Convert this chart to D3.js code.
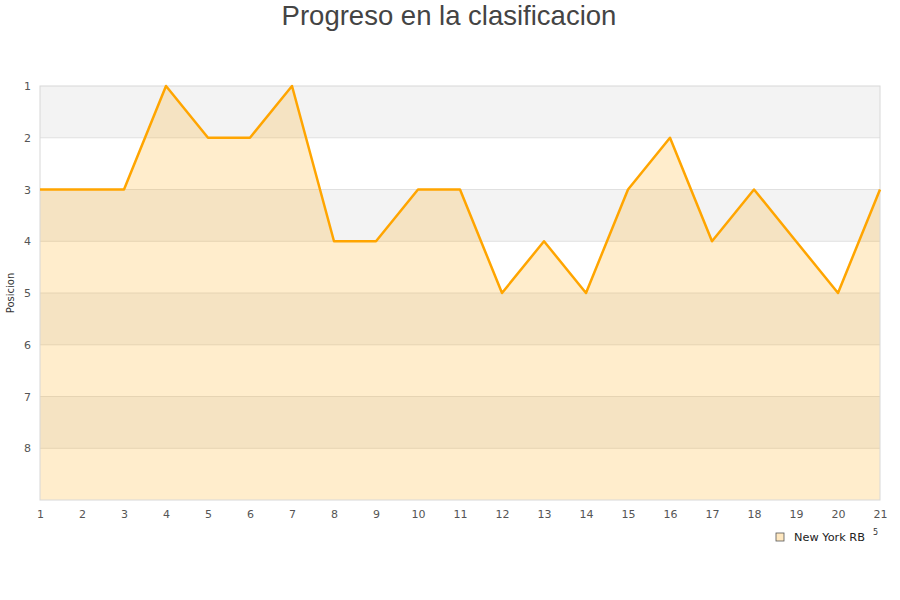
<!DOCTYPE html>
<html>
<head>
<meta charset="utf-8">
<script src="https://cdn.jsdelivr.net/npm/d3@7"></script>
<style>
  body { margin: 0; background: #fff; }
  .axis text { font-family: "DejaVu Sans", sans-serif; font-size: 11px; fill: #555; }
  .axis path, .axis line { display: none; }
</style>
</head>
<body>
<svg id="chart" width="900" height="600"></svg>
<script>
var title = "Progreso en la clasificacion",
    yLabel = "Posicion",
    seriesName = "New York RB";
var rounds = [1, 2, 3, 4, 5, 6, 7, 8, 9, 10, 11, 12, 13, 14, 15, 16, 17, 18, 19, 20, 21];
var positions = [3, 3, 3, 1, 2, 2, 1, 4, 4, 3, 3, 5, 4, 5, 3, 2, 4, 3, 4, 5, 3];
var yTicks = [1, 2, 3, 4, 5, 6, 7, 8];

var svg = d3.select("#chart"),
    margin = {top: 86, right: 20, bottom: 100, left: 40},
    width = 900 - margin.left - margin.right,
    height = 600 - margin.top - margin.bottom,
    g = svg.append("g").attr("transform", "translate(" + margin.left + "," + margin.top + ")");

var x = d3.scaleLinear()
    .domain([1, 21])
    .range([0, width]);

var y = d3.scaleLinear()
    .domain([1, 9])
    .range([0, height]);

// alternating bands
var bands = d3.range(1, 9);
g.selectAll(".band")
    .data(bands)
  .enter().append("rect")
    .attr("x", 0)
    .attr("y", function(d) { return y(d); })
    .attr("width", width)
    .attr("height", function(d) { return y(d + 1) - y(d); })
    .attr("fill", function(d) { return d % 2 ? "#f3f3f3" : "#ffffff"; });

// grid lines
g.selectAll(".grid")
    .data(yTicks.slice(1))
  .enter().append("line")
    .attr("x1", 0).attr("x2", width)
    .attr("y1", function(d) { return y(d); })
    .attr("y2", function(d) { return y(d); })
    .attr("stroke", "#e0e0e0");

// area under line
var area = d3.area()
    .x(function(d, i) { return x(rounds[i]); })
    .y0(height)
    .y1(function(d) { return y(d); });

g.append("path")
    .datum(positions)
    .attr("fill", "rgba(255,165,0,0.2)")
    .attr("d", area);

// frame
g.append("rect")
    .attr("width", width)
    .attr("height", height)
    .attr("fill", "none")
    .attr("stroke", "#d8d8d8");

var line = d3.line()
    .x(function(d, i) { return x(rounds[i]); })
    .y(function(d) { return y(d); });

g.append("path")
    .datum(positions)
    .attr("fill", "none")
    .attr("stroke", "#ffa500")
    .attr("stroke-width", 2.5)
    .attr("stroke-linejoin", "round")
    .attr("d", line);

g.append("g")
    .attr("class", "axis")
    .attr("transform", "translate(0," + height + ")")
    .call(d3.axisBottom(x).tickValues(rounds).tickFormat(d3.format("d")).tickSize(0).tickPadding(10));

g.append("g")
    .attr("class", "axis")
    .call(d3.axisLeft(y).tickValues(yTicks).tickFormat(d3.format("d")).tickSize(0).tickPadding(9));

// title
svg.append("text")
    .attr("x", 449)
    .attr("y", 25)
    .attr("text-anchor", "middle")
    .style("font-family", "'Liberation Sans', Arial, sans-serif")
    .style("font-size", "27.5px")
    .style("fill", "#444")
    .text(title);

// y axis label
svg.append("text")
    .attr("transform", "translate(14," + (margin.top + height / 2) + ") rotate(-90)")
    .attr("text-anchor", "middle")
    .style("font-family", "'DejaVu Sans', sans-serif")
    .style("font-size", "10px")
    .style("fill", "#333")
    .text(yLabel);

// legend
var legend = svg.append("g").attr("transform", "translate(776,533)");
legend.append("rect")
    .attr("width", 8).attr("height", 8)
    .attr("fill", "#ffe8c0")
    .attr("stroke", "#555")
    .attr("stroke-width", 0.8);
legend.append("text")
    .attr("x", 18).attr("y", 8)
    .style("font-family", "'DejaVu Sans', sans-serif")
    .style("font-size", "11.3px")
    .style("fill", "#222")
    .text(seriesName);
legend.append("text")
    .attr("x", 97).attr("y", 2)
    .style("font-family", "'DejaVu Sans', sans-serif")
    .style("font-size", "8px")
    .style("fill", "#333")
    .text("5");
</script>
</body>
</html>
